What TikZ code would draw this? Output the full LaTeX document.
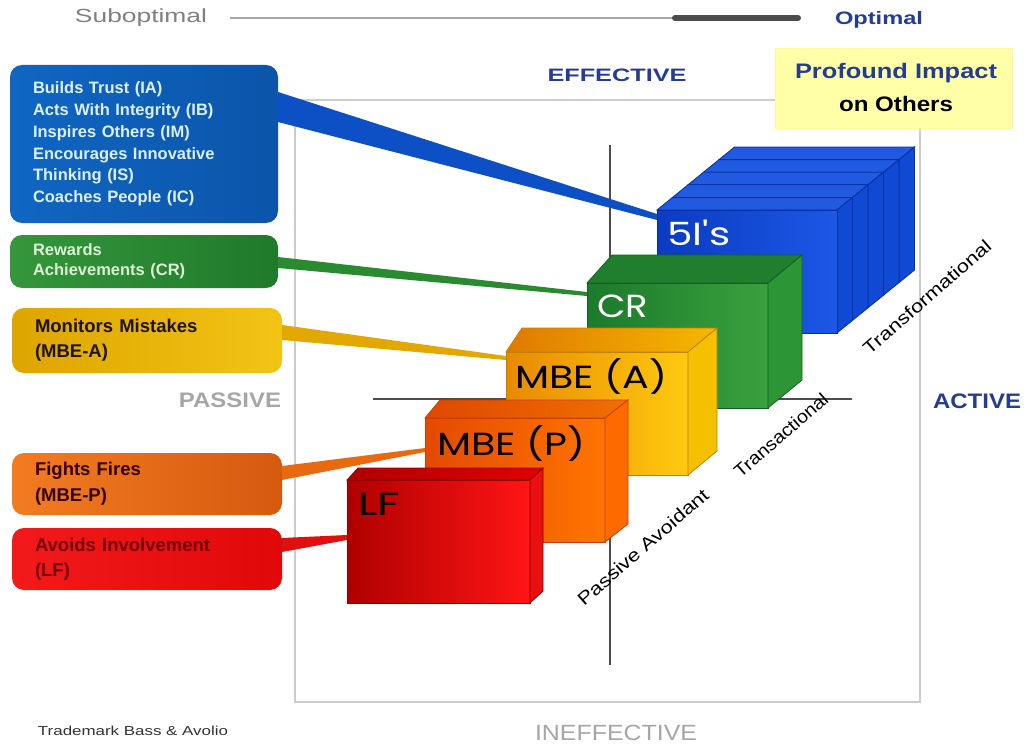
\documentclass[tikz,border=0pt]{standalone}
\usepackage{fontspec}
\usepackage{graphicx}
\usetikzlibrary{calc}
\setmainfont{Liberation Sans}
\newfontfamily\geo{Poppins}
\newcommand\fitw[2]{\resizebox{#1}{\height}{#2}}
\definecolor{bxBlueL}{HTML}{1066C2}
\definecolor{bxBlueR}{HTML}{0B55AA}
\definecolor{bxBlueT}{HTML}{DDF0FF}
\definecolor{bxGreenL}{HTML}{35963B}
\definecolor{bxGreenR}{HTML}{1F7A2A}
\definecolor{bxGreenT}{HTML}{DDF2D5}
\definecolor{bxGoldL}{HTML}{DDA500}
\definecolor{bxGoldR}{HTML}{F2C414}
\definecolor{bxOrL}{HTML}{F27C22}
\definecolor{bxOrR}{HTML}{D65A0E}
\definecolor{bxRedL}{HTML}{F21A1A}
\definecolor{bxRedR}{HTML}{E00808}
\definecolor{hdBlue}{HTML}{243C92}
\definecolor{hdGray}{HTML}{A6A6A6}
\definecolor{wBlue}{HTML}{0D4FC4}
\definecolor{wGreen}{HTML}{2A8A30}
\definecolor{wGold}{HTML}{E2A800}
\definecolor{wOr}{HTML}{E86A10}
\definecolor{wRed}{HTML}{E01010}
\definecolor{cbFL}{HTML}{0B3BC0}
\definecolor{cbFR}{HTML}{1B58E6}
\definecolor{cbT}{HTML}{1F5AE0}
\definecolor{cbS}{HTML}{0F49D4}
\definecolor{cbE}{HTML}{0A2E9E}
\definecolor{cgFL}{HTML}{1C7A2C}
\definecolor{cgFR}{HTML}{3AA13E}
\definecolor{cgT}{HTML}{1F7F2E}
\definecolor{cgS}{HTML}{2C9535}
\definecolor{cgE}{HTML}{176020}
\definecolor{caFL}{HTML}{E88A00}
\definecolor{caFR}{HTML}{FFCA10}
\definecolor{caTL}{HTML}{E07A00}
\definecolor{caTR}{HTML}{F5B800}
\definecolor{caS}{HTML}{F5C000}
\definecolor{caE}{HTML}{C08000}
\definecolor{cpFL}{HTML}{E44A00}
\definecolor{cpFR}{HTML}{FF7400}
\definecolor{cpTL}{HTML}{E04800}
\definecolor{cpTR}{HTML}{F07000}
\definecolor{cpS}{HTML}{FF6A00}
\definecolor{cpE}{HTML}{C04000}
\definecolor{clFL}{HTML}{B00000}
\definecolor{clFR}{HTML}{FF1515}
\definecolor{clTL}{HTML}{B00000}
\definecolor{clTR}{HTML}{E00000}
\definecolor{clS}{HTML}{E81010}
\definecolor{clE}{HTML}{900000}
\definecolor{impactY}{HTML}{FFFFA8}
\begin{document}
\begin{tikzpicture}[x=1pt,y=-1pt,
  lbox/.style={rounded corners=12pt, anchor=north west, align=left, inner xsep=23pt, inner ysep=0pt, outer sep=0pt},
  cubefront/.style={anchor=north west, inner sep=0pt, outer sep=0pt, line width=0.8pt},
  cubelab/.style={anchor=base west, inner sep=0pt, font={\geo\fontsize{32}{32}\selectfont}},
  axisline/.style={draw=black!70, line width=1.6pt},
  diag/.style={rotate=41, inner sep=0pt, font=\fontsize{18}{18}\selectfont},
  hd/.style={inner sep=0pt}
]
\useasboundingbox[fill=white] (0,0) rectangle (1030,749);

% top scale
\node[hd, text=black!50, font=\fontsize{19}{19}\selectfont] (subopt) at (141,18) {\fitw{132pt}{Suboptimal}};
\node[hd, text=hdBlue, font=\fontsize{18}{18}\selectfont\bfseries] (opt) at (879,20) {\fitw{88pt}{Optimal}};
\coordinate (scA) at (230,18);
\coordinate (scB) at (675,18);
\coordinate (scC) at (798,18);
\draw[line width=2pt, black!35] (scA) -- (scB);
\draw[line width=6pt, line cap=round, black!70] (scB) -- (scC);

% frame and axes
\draw[black!20, line width=1.2pt] (295,100) rectangle (920,702);
\coordinate (vtop) at (610,145);
\coordinate (vbot) at (610,665);
\coordinate (hleft) at (373,399);
\coordinate (hright) at (852,399);
\draw[axisline] (vtop) -- (vbot);
\draw[axisline] (hleft) -- (hright);

% headings
\node[hd, text=hdBlue, font=\fontsize{18}{18}\selectfont\bfseries] (eff) at (617,75) {\fitw{139pt}{EFFECTIVE}};
\node[hd, text=hdGray, font=\fontsize{22}{22}\selectfont] (ineff) at (616,733) {\fitw{162pt}{INEFFECTIVE}};
\node[hd, text=hdGray, font=\fontsize{21}{21}\selectfont\bfseries] (pass) at (230,400) {\fitw{102pt}{PASSIVE}};
\node[hd, text=hdBlue, font=\fontsize{21}{21}\selectfont\bfseries] (act) at (977,401) {\fitw{88pt}{ACTIVE}};
\node[hd, text=black!80, font=\fontsize{13}{13}\selectfont] (tm) at (133,731) {\fitw{190pt}{Trademark Bass \& Avolio}};

% impact box
\node[anchor=north west, fill=impactY, draw=yellow!40!white, minimum width=237pt, minimum height=80pt, inner sep=0pt] (impact) at (775,48) {};
\node[hd, text=hdBlue, font=\fontsize{21}{21}\selectfont\bfseries] (imp1) at (896,73) {\fitw{202pt}{Profound Impact}};
\node[hd, text=black, font=\fontsize{21}{21}\selectfont\bfseries] (imp2) at (896,104) {\fitw{114pt}{on Others}};

% left boxes
\node[lbox, left color=bxBlueL, right color=bxBlueR, text=bxBlueT, text width=222pt, minimum height=158pt,
      font=\fontsize{16.5}{21.8}\selectfont\bfseries] (ibox) at (10,65)
  {Builds Trust (IA)\\Acts With Integrity (IB)\\Inspires Others (IM)\\Encourages Innovative\\Thinking (IS)\\Coaches People (IC)};
\node[lbox, left color=bxGreenL, right color=bxGreenR, text=bxGreenT, text width=222pt, minimum height=53pt,
      font=\fontsize{16.5}{20}\selectfont\bfseries] (crbox) at (10,235)
  {Rewards\\Achievements (CR)};
\node[lbox, left color=bxGoldL, right color=bxGoldR, text=black!85!brown, text width=224pt, minimum height=65pt,
      font=\fontsize{18.5}{25}\selectfont\bfseries] (abox) at (12,308)
  {Monitors Mistakes\\(MBE-A)};
\node[lbox, left color=bxOrL, right color=bxOrR, text=black!80!red, text width=224pt, minimum height=62pt,
      font=\fontsize{18.5}{26}\selectfont\bfseries] (pbox) at (12,453)
  {Fights Fires\\(MBE-P)};
\node[lbox, left color=bxRedL, right color=bxRedR, text=red!45!black, text width=224pt, minimum height=62pt,
      font=\fontsize{18.5}{25}\selectfont\bfseries] (lbox) at (12,528)
  {Avoids Involvement\\(LF)};

% cube front anchors (defined before wedges)
\coordinate (fI) at (657,210);
\coordinate (fCR) at (587,283);
\coordinate (fA) at (506,352);
\coordinate (fP) at (425,418);
\coordinate (fL) at (347,480);

% wedge connectors
\fill[wBlue] ([yshift=-27pt]ibox.north east) -- ([yshift=-57pt]ibox.north east) -- ([yshift=-10pt]fI) -- ([yshift=-4pt]fI) -- cycle;
\fill[wGreen] ([yshift=-22pt]crbox.north east) -- ([yshift=-33pt]crbox.north east) -- ([yshift=-13pt]fCR) -- ([yshift=-9pt]fCR) -- cycle;
\fill[wGold] ([yshift=-17pt]abox.north east) -- ([yshift=-32pt]abox.north east) -- ([yshift=-8pt]fA) -- ([yshift=-4pt]fA) -- cycle;
\fill[wOr] ([yshift=-13pt]pbox.north east) -- ([yshift=-27pt]pbox.north east) -- ([yshift=-34pt]fP) -- ([yshift=-30pt]fP) -- cycle;
\fill[wRed] ([yshift=-10pt]lbox.north east) -- ([yshift=-24pt]lbox.north east) -- ([yshift=-60pt]fL) -- ([yshift=-55pt]fL) -- cycle;

% 5I's stack
\foreach \k in {4,3,2,1,0}{
  \filldraw[fill=cbT, draw=cbE, line width=0.8pt] ($(fI)+(15.5*\k,-12.6*\k)$) -- ++(15.5,-12.6) -- ++(180,0) -- ++(-15.5,12.6) -- cycle;
  \filldraw[fill=cbS, draw=cbE, line width=0.8pt] ($(fI)+(180+15.5*\k,-12.6*\k)$) -- ++(15.5,-12.6) -- ++(0,123) -- ++(-15.5,12.6) -- cycle;
}
\node[cubefront, draw=cbE, left color=cbFL, right color=cbFR, minimum width=180pt, minimum height=123pt] (cI) at (fI) {};
\node[cubelab, text=white] (labI) at (667,245) {\fitw{63pt}{5I's}};

% CR cube
\node[cubefront, draw=cgE, left color=cgFL, right color=cgFR, minimum width=181pt, minimum height=125pt] (cCR) at (fCR) {};
\filldraw[fill=cgT, draw=cgE, line width=0.8pt] (cCR.north west) -- (612,255) -- (802,255) -- (cCR.north east) -- cycle;
\filldraw[fill=cgS, draw=cgE, line width=0.8pt] (cCR.north east) -- (802,255) -- (802,380) -- (cCR.south east) -- cycle;
\node[cubelab, text=white] (labCR) at (597,317) {\fitw{51pt}{CR}};

% MBE (A) cube
\node[cubefront, draw=caE, left color=caFL, right color=caFR, minimum width=182pt, minimum height=123pt] (cA) at (fA) {};
\shadedraw[left color=caTL, right color=caTR, draw=caE, line width=0.8pt] (cA.north west) -- (522,328) -- (717,328) -- (cA.north east) -- cycle;
\filldraw[fill=caS, draw=caE, line width=0.8pt] (cA.north east) -- (717,328) -- (717,451) -- (cA.south east) -- cycle;
\node[cubelab, text=black] (labA) at (515,388) {\fitw{152pt}{MBE (A)}};

% MBE (P) cube
\node[cubefront, draw=cpE, left color=cpFL, right color=cpFR, minimum width=180pt, minimum height=124pt] (cP) at (fP) {};
\shadedraw[left color=cpTL, right color=cpTR, draw=cpE, line width=0.8pt] (cP.north west) -- (440,400) -- (628,400) -- (cP.north east) -- cycle;
\filldraw[fill=cpS, draw=cpE, line width=0.8pt] (cP.north east) -- (628,400) -- (628,524) -- (cP.south east) -- cycle;
\node[cubelab, text=black] (labP) at (437,455) {\fitw{148pt}{MBE (P)}};

% LF cube
\node[cubefront, draw=clE, left color=clFL, right color=clFR, minimum width=183pt, minimum height=123pt] (cL) at (fL) {};
\shadedraw[left color=clTL, right color=clTR, draw=clE, line width=0.8pt] (cL.north west) -- (358,468) -- (543,468) -- (cL.north east) -- cycle;
\filldraw[fill=clS, draw=clE, line width=0.8pt] (cL.north east) -- (543,468) -- (543,591) -- (cL.south east) -- cycle;
\node[cubelab, text=black] (labL) at (358,515) {\fitw{42pt}{LF}};

% diagonal labels
\node[diag] (dTf) at (927,297) {\fitw{163pt}{Transformational}};
\node[diag] (dTa) at (781,435) {\fitw{118pt}{Transactional}};
\node[diag] (dPa) at (643,547) {\fitw{167pt}{Passive Avoidant}};
\end{tikzpicture}
\end{document}
